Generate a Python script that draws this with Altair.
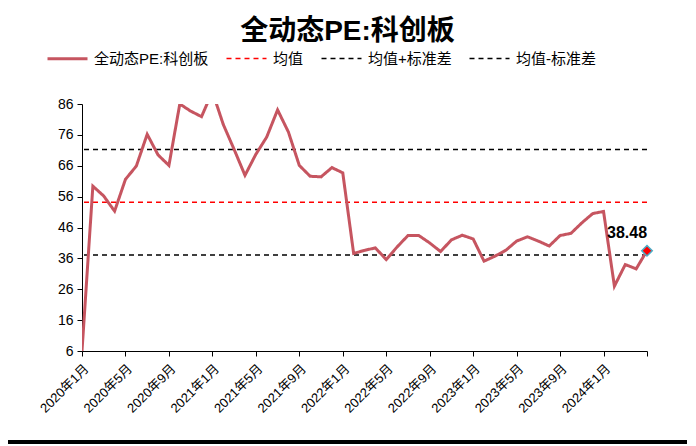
import altair as alt
import pandas as pd

# ---------------- data ----------------
months = [f"{y}年{m}月" for y in range(2020, 2025) for m in range(1, 13)][:53]
pe_values = [
    6.0, 59.4, 56.2, 51.3, 61.6, 65.9, 76.2, 69.5, 66.1, 86.0, 83.7, 81.9,
    90.0, 79.4, 71.3, 62.9, 69.7, 75.3, 84.1, 76.9, 66.1, 62.6, 62.4, 65.4,
    63.7, 37.6, 38.6, 39.4, 35.6, 39.7, 43.4, 43.4, 41.0, 38.2, 42.0, 43.5,
    42.3, 35.1, 36.7, 38.6, 41.6, 43.0, 41.6, 40.0, 43.4, 44.1, 47.5, 50.5,
    51.2, 27.0, 34.0, 32.6, 38.48,
]
series_names = ["全动态PE:科创板", "均值", "均值+标准差", "均值-标准差"]
series_colors = ["#C65560", "#FF0000", "#000000", "#000000"]
series_dashes = [[1, 0], [5, 4], [5, 4], [5, 4]]
series_widths = [3, 1.5, 1.5, 1.5]
mean_pe = 54.2
std_pe = 17.1
band_levels = [mean_pe, mean_pe + std_pe, mean_pe - std_pe]
y_ticks = list(range(6, 87, 10))
x_ticks = months[::4]
last_label = "38.48"
title_text = "全动态PE:科创板"

FONT = "Liberation Sans, Noto Sans CJK SC, sans-serif"

pe_df = pd.DataFrame({"month": months, "value": pe_values, "series": series_names[0]})
band_df = pd.DataFrame({"series": series_names[1:], "value": band_levels})
last_df = pe_df.iloc[[-1]].assign(label=last_label)
bar_df = pd.DataFrame({"k": [0]})

# ---------------- encodings ----------------
x_enc = alt.X(
    "month:O",
    sort=months,
    scale=alt.Scale(type="point", padding=0),
    title=None,
    axis=alt.Axis(
        values=x_ticks,
        labelExpr="datum.value == '2024年5月' ? '' : datum.value",
        labelAngle=-45,
        labelAlign="right",
        labelBaseline="top",
        labelFont=FONT,
        labelFontSize=13,
        labelColor="#000000",
        labelPadding=6,
        labelOverlap=False,
        tickSize=5,
        tickColor="#000000",
        domainColor="#000000",
        grid=False,
    ),
)
y_enc = alt.Y(
    "value:Q",
    scale=alt.Scale(domain=[6, 86], nice=False, zero=False),
    title=None,
    axis=alt.Axis(
        values=y_ticks,
        tickCount=len(y_ticks),
        labelFont=FONT,
        labelFontSize=14,
        labelColor="#000000",
        labelPadding=4,
        labelOverlap=False,
        tickSize=5,
        tickColor="#000000",
        domainColor="#000000",
        grid=False,
    ),
)

legend = alt.Legend(
    title=None,
    orient="none",
    legendX=-36,
    legendY=-67,
    direction="horizontal",
    columns=4,
    symbolType="stroke",
    symbolSize=1600,
    labelFont=FONT,
    labelFontSize=15,
    labelColor="#000000",
    labelOffset=5,
    columnPadding=14,
)
color_enc = alt.Color(
    "series:N", scale=alt.Scale(domain=series_names, range=series_colors), legend=legend
)
dash_enc = alt.StrokeDash(
    "series:N", scale=alt.Scale(domain=series_names, range=series_dashes), legend=legend
)
width_enc = alt.StrokeWidth(
    "series:N",
    scale=alt.Scale(type="ordinal", domain=series_names, range=series_widths),
    legend=legend,
)

# ---------------- layers ----------------
line = alt.Chart(pe_df).mark_line(clip=True).encode(
    x=x_enc, y=y_enc, color=color_enc, strokeDash=dash_enc, strokeWidth=width_enc
)
bands = alt.Chart(band_df).mark_rule().encode(
    y=alt.Y("value:Q"), color=color_enc, strokeDash=dash_enc, strokeWidth=width_enc
)
last_pt = alt.Chart(last_df).mark_point(
    shape="diamond", filled=True, fill="#FF0000", stroke="#4BACC6",
    strokeWidth=1.5, size=110, opacity=1,
).encode(x=alt.X("month:O", sort=months), y=alt.Y("value:Q"))
last_txt = alt.Chart(last_df).mark_text(
    font=FONT, fontSize=16, fontWeight="bold", color="#000000",
    dx=-20, dy=-18, baseline="middle",
).encode(x=alt.X("month:O", sort=months), y=alt.Y("value:Q"), text="label:N")
bottom_bar = alt.Chart(bar_df).mark_rule(color="#000000", strokeWidth=4).encode(
    x=alt.value(-76), x2=alt.value(614), y=alt.value(338)
)

chart = (
    alt.layer(bands, line, last_pt, last_txt, bottom_bar)
    .properties(
        width=565,
        height=247,
        autosize=alt.AutoSizeParams(type="none"),
        padding={"left": 74, "top": 96, "right": 40, "bottom": 95},
        title=alt.Title(
            title_text,
            font=FONT,
            fontSize=28,
            fontWeight="bold",
            color="#000000",
            anchor="middle",
            frame="group",
            dx=-17,
            offset=-9,
        ),
    )
    .configure_view(stroke=None)
)

chart.save("out.html", embed_options={"renderer": "svg", "actions": False})
